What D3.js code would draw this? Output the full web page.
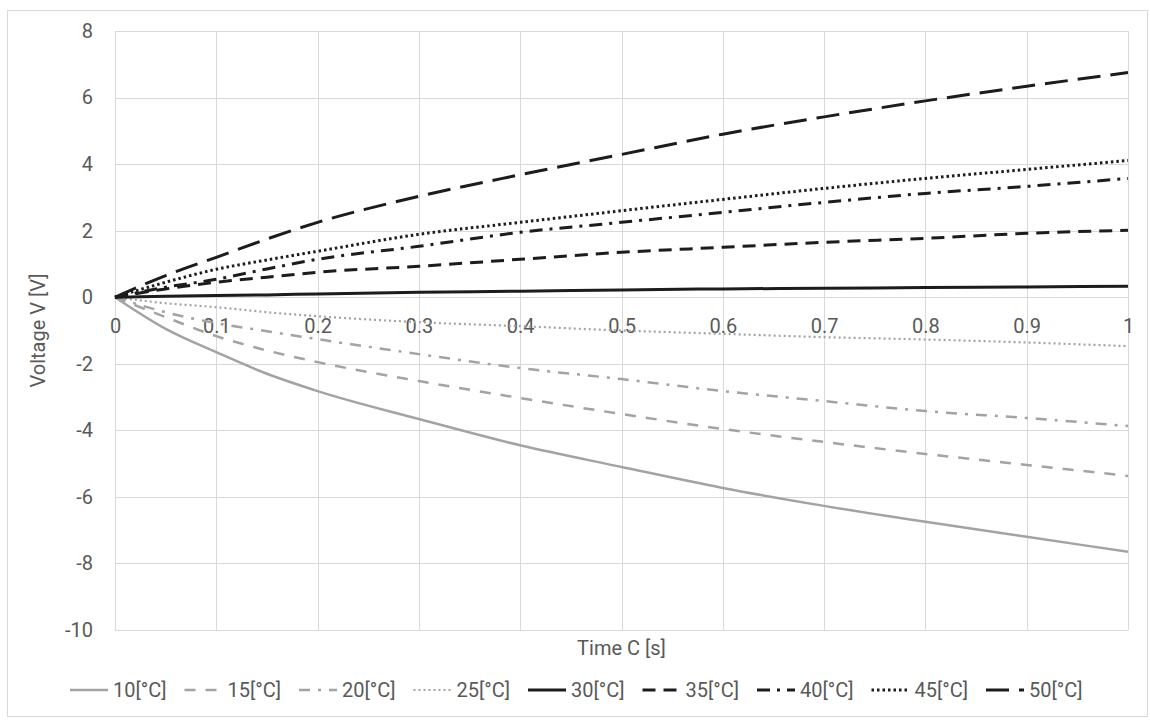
<!DOCTYPE html>
<html>
<head>
<meta charset="utf-8">
<script src="https://cdn.jsdelivr.net/npm/d3@7"></script>
<style>
  html, body { margin: 0; padding: 0; background: #fff; }
  svg { display: block; }
  text { font-family: Roboto, "Liberation Sans", Arial, sans-serif; fill: #595959; }
</style>
</head>
<body>
<svg id="chart" width="1150" height="720"></svg>
<script>
// ---- data ----
const times = [0, 0.05, 0.1, 0.15, 0.2, 0.3, 0.4, 0.5, 0.6, 0.7, 0.8, 0.9, 1.0];
const seriesNames = ["10[°C]", "15[°C]", "20[°C]", "25[°C]", "30[°C]", "35[°C]", "40[°C]", "45[°C]", "50[°C]"];
const v10 = [0, -0.95, -1.65, -2.3, -2.82, -3.66, -4.45, -5.1, -5.73, -6.27, -6.75, -7.2, -7.65];
const v15 = [0, -0.6, -1.17, -1.6, -1.95, -2.52, -3.03, -3.51, -3.96, -4.35, -4.71, -5.04, -5.37];
const v20 = [0, -0.45, -0.78, -1.02, -1.26, -1.71, -2.13, -2.46, -2.82, -3.12, -3.42, -3.63, -3.87];
const v25 = [0, -0.18, -0.3, -0.45, -0.57, -0.75, -0.87, -1.0, -1.1, -1.2, -1.27, -1.36, -1.47];
const v30 = [0, 0.03, 0.05, 0.07, 0.1, 0.15, 0.18, 0.22, 0.25, 0.27, 0.29, 0.31, 0.33];
const v35 = [0, 0.25, 0.45, 0.6, 0.75, 0.93, 1.14, 1.35, 1.5, 1.65, 1.77, 1.92, 2.01];
const v40 = [0, 0.3, 0.54, 0.85, 1.14, 1.53, 1.95, 2.25, 2.55, 2.85, 3.12, 3.33, 3.57];
const v45 = [0, 0.45, 0.84, 1.12, 1.38, 1.89, 2.25, 2.6, 2.94, 3.27, 3.57, 3.84, 4.11];
const v50 = [0, 0.65, 1.2, 1.75, 2.25, 3.03, 3.68, 4.29, 4.9, 5.42, 5.9, 6.34, 6.75];
const seriesValues = [v10, v15, v20, v25, v30, v35, v40, v45, v50];
const xTicks = [0, 0.1, 0.2, 0.3, 0.4, 0.5, 0.6, 0.7, 0.8, 0.9, 1];
const yTicks = [-10, -8, -6, -4, -2, 0, 2, 4, 6, 8];
const xTitle = "Time C [s]";
const yTitle = "Voltage V [V]";

(function () {
// ---- styles ----
const GREY = "#a3a3a3", BLACK = "#1c1c1c";
const FONT = "Roboto, 'Liberation Sans', Arial, sans-serif";
const styles = [
  { color: GREY,  width: 2.5, dash: null },
  { color: GREY,  width: 2.5, dash: "11,10" },
  { color: GREY,  width: 2.5, dash: "11,8,3,8" },
  { color: GREY,  width: 2.2, dash: "2,3" },
  { color: BLACK, width: 3,   dash: null },
  { color: BLACK, width: 3,   dash: "13,8" },
  { color: BLACK, width: 3,   dash: "13,7,3,7" },
  { color: BLACK, width: 3,   dash: "2.5,3" },
  { color: BLACK, width: 3,   dash: "23,10" }
];

const svg = d3.select("#chart");
const pL = 115, pR = 1128, pT = 31, pB = 630;

// outer border
svg.append("rect").attr("x", 7.5).attr("y", 10.5).attr("width", 1140).attr("height", 706)
  .attr("fill", "#fff").attr("stroke", "#d9d9d9");

const x = d3.scaleLinear().domain([0, 1]).range([pL, pR]);
const y = d3.scaleLinear().domain([-10, 8]).range([pB, pT]);

// grid
const grid = svg.append("g");
grid.selectAll(".gx").data(xTicks).join("line")
  .attr("x1", d => Math.round(x(d)) + 0.5).attr("x2", d => Math.round(x(d)) + 0.5)
  .attr("y1", pT).attr("y2", pB)
  .attr("stroke", "#d9d9d9").attr("stroke-width", 1);
grid.selectAll(".gy").data(yTicks).join("line")
  .attr("x1", pL).attr("x2", pR)
  .attr("y1", d => Math.round(y(d)) + 0.5).attr("y2", d => Math.round(y(d)) + 0.5)
  .attr("stroke", "#d9d9d9").attr("stroke-width", 1);

// y axis labels (hyphen-minus as in the reference)
const yAxis = d3.axisLeft(y).tickValues(yTicks).tickSize(0).tickPadding(0).tickFormat(d => String(d));
const gy = svg.append("g").attr("transform", `translate(${pL - 22},0)`).call(yAxis);
gy.select(".domain").remove();
gy.selectAll("text").style("font-size", "20px").attr("fill", "#595959").style("font-family", FONT);

// x axis labels (axis crosses at 0, labels placed below)
const xAxis = d3.axisBottom(x).tickValues(xTicks).tickSize(0).tickPadding(0)
  .tickFormat(d => d === 0 ? "0" : d === 1 ? "1" : d3.format(".1f")(d));
const gx = svg.append("g").attr("transform", `translate(0,${y(0) + 22})`).call(xAxis);
gx.select(".domain").remove();
gx.selectAll("text").style("font-size", "20px").attr("fill", "#595959").style("font-family", FONT);

// titles
svg.append("text").attr("x", (pL + pR) / 2).attr("y", 655)
  .attr("text-anchor", "middle").style("font-size", "20px").text(xTitle);
svg.append("text").attr("transform", `translate(45,${(pT + pB) / 2}) rotate(-90)`)
  .attr("text-anchor", "middle").style("font-size", "20px").text(yTitle);

// lines
const line = d3.line().x(d => x(d[0])).y(d => y(d[1])).curve(d3.curveMonotoneX);
const lines = svg.append("g");
seriesValues.forEach((vals, i) => {
  const pts = times.map((t, j) => [t, vals[j]]);
  lines.append("path").datum(pts)
    .attr("d", line)
    .attr("fill", "none")
    .attr("stroke", styles[i].color)
    .attr("stroke-width", styles[i].width)
    .attr("stroke-dasharray", styles[i].dash);
});

// legend
const legendX = d3.scaleBand().domain(seriesNames).range([70, 70 + 114.5 * seriesNames.length]);
const lg = svg.append("g").attr("transform", "translate(0,690)");
seriesNames.forEach((name, i) => {
  const x0 = legendX(name);
  lg.append("line").attr("x1", x0).attr("x2", x0 + 38).attr("y1", 0).attr("y2", 0)
    .attr("stroke", styles[i].color).attr("stroke-width", styles[i].width)
    .attr("stroke-dasharray", styles[i].dash);
  lg.append("text").attr("x", x0 + 43).attr("y", 7).style("font-size", "20px").text(name);
});
})();
</script>
</body>
</html>
